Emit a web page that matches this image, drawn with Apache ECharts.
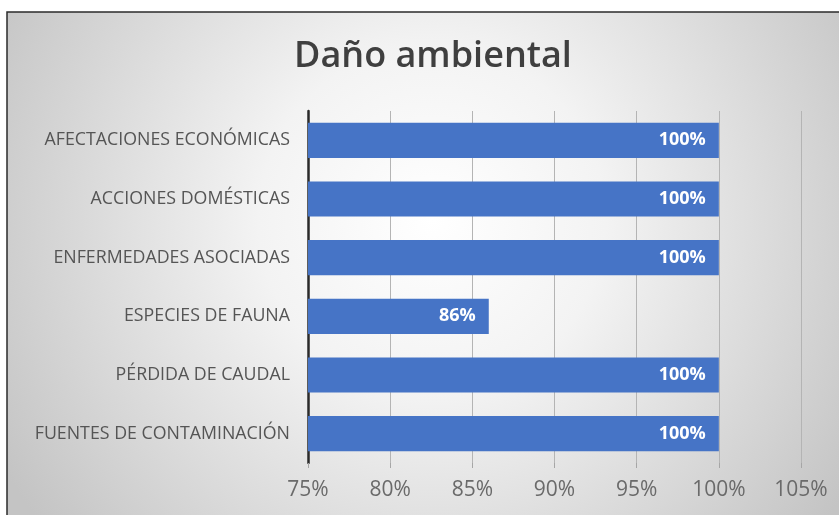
<!DOCTYPE html>
<html>
<head>
<meta charset="utf-8">
<script src="https://cdn.jsdelivr.net/npm/echarts@6/dist/echarts.min.js"></script>
<style>
  html, body { margin: 0; padding: 0; background: #ffffff; }
  #chart { width: 839px; height: 515px; }
</style>
</head>
<body>
<div id="chart"></div>
<script>
// Category names, bottom to top as drawn on the vertical axis
const categories = [
  'FUENTES DE CONTAMINACIÓN',
  'PÉRDIDA DE CAUDAL',
  'ESPECIES DE FAUNA',
  'ENFERMEDADES ASOCIADAS',
  'ACCIONES DOMÉSTICAS',
  'AFECTACIONES ECONÓMICAS'
];
// Share of each type of damage, in percent
const values = [100, 100, 86, 100, 100, 100];
// Horizontal axis range and step, in percent
const axisMin = 75;
const axisMax = 105;
const axisStep = 5;

const chart = echarts.init(document.getElementById('chart'), null, { renderer: 'canvas' });

chart.setOption({
  animation: false,
  backgroundColor: '#ffffff',
  graphic: [
    {
      // chart area panel: soft radial shading, framed on the top and left
      type: 'rect',
      z: -10,
      silent: true,
      shape: { x: 7, y: 12, width: 850, height: 520 },
      style: {
        fill: {
          type: 'radial', x: 0.5, y: 0.4, r: 0.95,
          colorStops: [
            { offset: 0, color: '#ffffff' },
            { offset: 0.35, color: '#f3f3f3' },
            { offset: 1, color: '#c4c4c4' }
          ]
        },
        stroke: '#2b2b2b',
        lineWidth: 1.5
      }
    }
  ],
  title: {
    text: 'Daño ambiental',
    left: 289,
    top: 34,
    textStyle: {
      fontFamily: 'Open Sans',
      fontWeight: 600,
      fontSize: 36,
      color: '#3f3f3f'
    }
  },
  grid: { left: 308, right: 38, top: 111, bottom: 52 },
  xAxis: {
    type: 'value',
    min: axisMin,
    max: axisMax,
    interval: axisStep,
    axisLine: { show: false },
    axisTick: { show: true, length: 5, lineStyle: { color: '#a6a6a6' } },
    splitLine: { show: true, lineStyle: { color: '#b4b4b4', width: 1 } },
    axisLabel: {
      formatter: '{value}%',
      margin: 17,
      fontFamily: 'Open Sans',
      fontSize: 21,
      color: '#6a6a6a'
    }
  },
  yAxis: {
    type: 'category',
    data: categories,
    axisLine: { show: true, lineStyle: { color: '#2a2a2a', width: 2.5 } },
    axisTick: { show: false },
    axisLabel: {
      margin: 18,
      fontFamily: 'Open Sans',
      fontSize: 17.8,
      color: '#555555'
    }
  },
  series: [
    {
      type: 'bar',
      data: values,
      barCategoryGap: '40%',
      itemStyle: { color: '#4674c6' },
      label: {
        show: true,
        position: 'insideRight',
        distance: 13,
        formatter: '{c}%',
        fontFamily: 'Open Sans',
        fontWeight: 'bold',
        fontSize: 18,
        color: '#ffffff'
      }
    }
  ]
});
</script>
</body>
</html>
